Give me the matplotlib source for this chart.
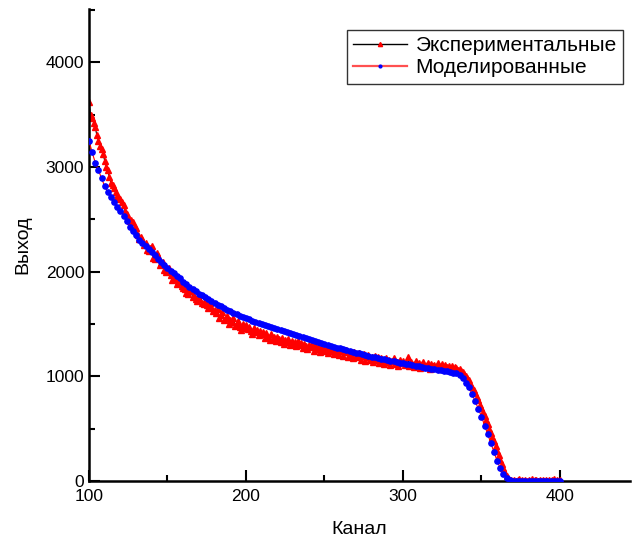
import numpy as np
import matplotlib
matplotlib.use("Agg")
import matplotlib.pyplot as plt
from matplotlib.lines import Line2D

plt.rcParams["font.family"] = ["Liberation Sans", "DejaVu Sans"]

# экспериментальный спектр: каналы 100..400, шаг 1
exp_channels = np.arange(100, 401, 1)
experimental = [
    3620, 3500, 3470, 3420, 3380, 3300, 3250, 3200, 3170, 3120,
    3060, 3000, 2970, 2900, 2850, 2830, 2800, 2760, 2720, 2700,
    2690, 2660, 2640, 2580, 2550, 2500, 2480, 2490, 2470, 2430,
    2420, 2350, 2310, 2330, 2300, 2250, 2270, 2210, 2200, 2230,
    2240, 2130, 2120, 2180, 2150, 2060, 2080, 2090, 2020, 2000,
    2010, 2030, 1970, 1920, 1950, 1930, 1880, 1900, 1920, 1860,
    1840, 1830, 1800, 1790, 1830, 1810, 1760, 1770, 1740, 1720,
    1740, 1780, 1700, 1690, 1720, 1680, 1650, 1700, 1660, 1620,
    1630, 1600, 1640, 1560, 1590, 1610, 1540, 1560, 1580, 1500,
    1540, 1520, 1560, 1480, 1500, 1530, 1470, 1440, 1500, 1460,
    1490, 1450, 1470, 1430, 1400, 1460, 1420, 1440, 1390, 1430,
    1400, 1420, 1370, 1410, 1380, 1350, 1400, 1360, 1380, 1340,
    1380, 1360, 1330, 1370, 1310, 1350, 1330, 1360, 1300, 1340,
    1310, 1330, 1290, 1340, 1300, 1320, 1270, 1310, 1290, 1260,
    1300, 1280, 1310, 1240, 1290, 1260, 1280, 1230, 1270, 1250,
    1240, 1280, 1220, 1260, 1240, 1270, 1210, 1250, 1230, 1200,
    1240, 1260, 1190, 1230, 1250, 1180, 1220, 1200, 1170, 1230,
    1180, 1200, 1220, 1160, 1190, 1210, 1150, 1180, 1200, 1160,
    1180, 1140, 1190, 1160, 1180, 1130, 1170, 1150, 1120, 1170,
    1140, 1160, 1110, 1150, 1170, 1120, 1140, 1100, 1160, 1130,
    1150, 1110, 1130, 1180, 1100, 1140, 1120, 1090, 1150, 1110,
    1130, 1080, 1120, 1140, 1090, 1110, 1130, 1070, 1120, 1100,
    1110, 1090, 1130, 1080, 1100, 1120, 1070, 1110, 1090, 1100,
    1080, 1100, 1070, 1090, 1080, 1060, 1070, 1050, 1040, 1020,
    1000, 980, 960, 930, 900, 870, 840, 800, 770, 730,
    700, 660, 620, 580, 540, 500, 460, 420, 380, 330,
    290, 250, 200, 160, 120, 80, 50, 25, 10, 5,
    0, 10, 0, 5, 15, 0, 5, 0, 10, 0,
    5, 0, 15, 0, 5, 10, 0, 5, 0, 10,
    0, 5, 0, 10, 0, 5, 15, 0, 5, 0,
    5,
]

# модельный спектр: каналы 100..400, шаг 2
mod_channels = np.arange(100, 401, 2)
modeled = [
    3250, 3140, 3040, 2970, 2890, 2815, 2760, 2710, 2660, 2620,
    2580, 2530, 2480, 2430, 2385, 2345, 2305, 2275, 2245, 2215,
    2185, 2158, 2125, 2095, 2065, 2035, 2010, 1985, 1960, 1935,
    1900, 1878, 1855, 1833, 1812, 1790, 1775, 1755, 1737, 1718,
    1700, 1683, 1667, 1650, 1635, 1620, 1607, 1594, 1580, 1567,
    1555, 1543, 1532, 1521, 1510, 1500, 1490, 1480, 1470, 1460,
    1450, 1440, 1430, 1420, 1410, 1400, 1390, 1381, 1372, 1362,
    1353, 1344, 1335, 1326, 1317, 1308, 1299, 1291, 1283, 1275,
    1267, 1258, 1250, 1242, 1234, 1226, 1218, 1211, 1203, 1196,
    1189, 1182, 1175, 1168, 1161, 1154, 1148, 1142, 1136, 1130,
    1124, 1118, 1113, 1107, 1101, 1095, 1090, 1084, 1078, 1073,
    1068, 1063, 1058, 1053, 1048, 1043, 1036, 1028, 1012, 985,
    940, 895, 830, 760, 690, 615, 530, 445, 360, 275,
    190, 120, 65, 25, 5, 0, 0, 0, 0, 0,
    0, 0, 0, 0, 0, 0, 0, 0, 0, 0,
    0,
]

fig = plt.figure(figsize=(6.33, 5.51), dpi=100)
ax = fig.add_axes([89 / 633, 1 - 481 / 551, (630 - 89) / 633, (481 - 9) / 551])

ax.plot(exp_channels, experimental, color="black", lw=0.8, marker="^",
        ms=4.5, mfc="red", mec="red", zorder=2)
ax.plot(mod_channels, modeled, color="red", lw=0.8, marker="o",
        ms=3.8, mfc="blue", mec="blue", zorder=3)

ax.set_xlim(100, 444.6)
ax.set_ylim(0, 4508)
ax.set_xticks([100, 200, 300, 400])
ax.set_xticks([150, 250, 350], minor=True)
ax.set_yticks([0, 1000, 2000, 3000, 4000])
ax.set_yticks([500, 1500, 2500, 3500, 4500], minor=True)
ax.tick_params(which="both", direction="in", width=1.5, labelsize=12.5)
ax.tick_params(which="major", length=8)
ax.tick_params(which="minor", length=4)
ax.tick_params(axis="x", pad=6)
for side in ("top", "right"):
    ax.spines[side].set_visible(False)
for side in ("left", "bottom"):
    ax.spines[side].set_linewidth(1.8)

ax.set_xlabel("Канал", fontsize=14, labelpad=12)
ax.set_ylabel("Выход", fontsize=14, labelpad=10)

handles = [
    Line2D([], [], color="black", lw=1, marker="^", ms=3, mfc="red", mec="red"),
    Line2D([], [], color="#ff5050", lw=1.6, marker="o", ms=2, mfc="blue", mec="blue"),
]
leg = fig.legend(handles, ["Экспериментальные", "Моделированные"],
                 loc="upper right", bbox_to_anchor=(623 / 633, 1 - 30 / 551),
                 fontsize=15, frameon=True, fancybox=False, borderpad=0.3,
                 handlelength=2.6, handletextpad=0.4, labelspacing=0.15,
                 borderaxespad=0)
leg.get_frame().set_edgecolor("black")
leg.get_frame().set_linewidth(1.0)

fig.savefig("out.png", dpi=100, facecolor="white")
